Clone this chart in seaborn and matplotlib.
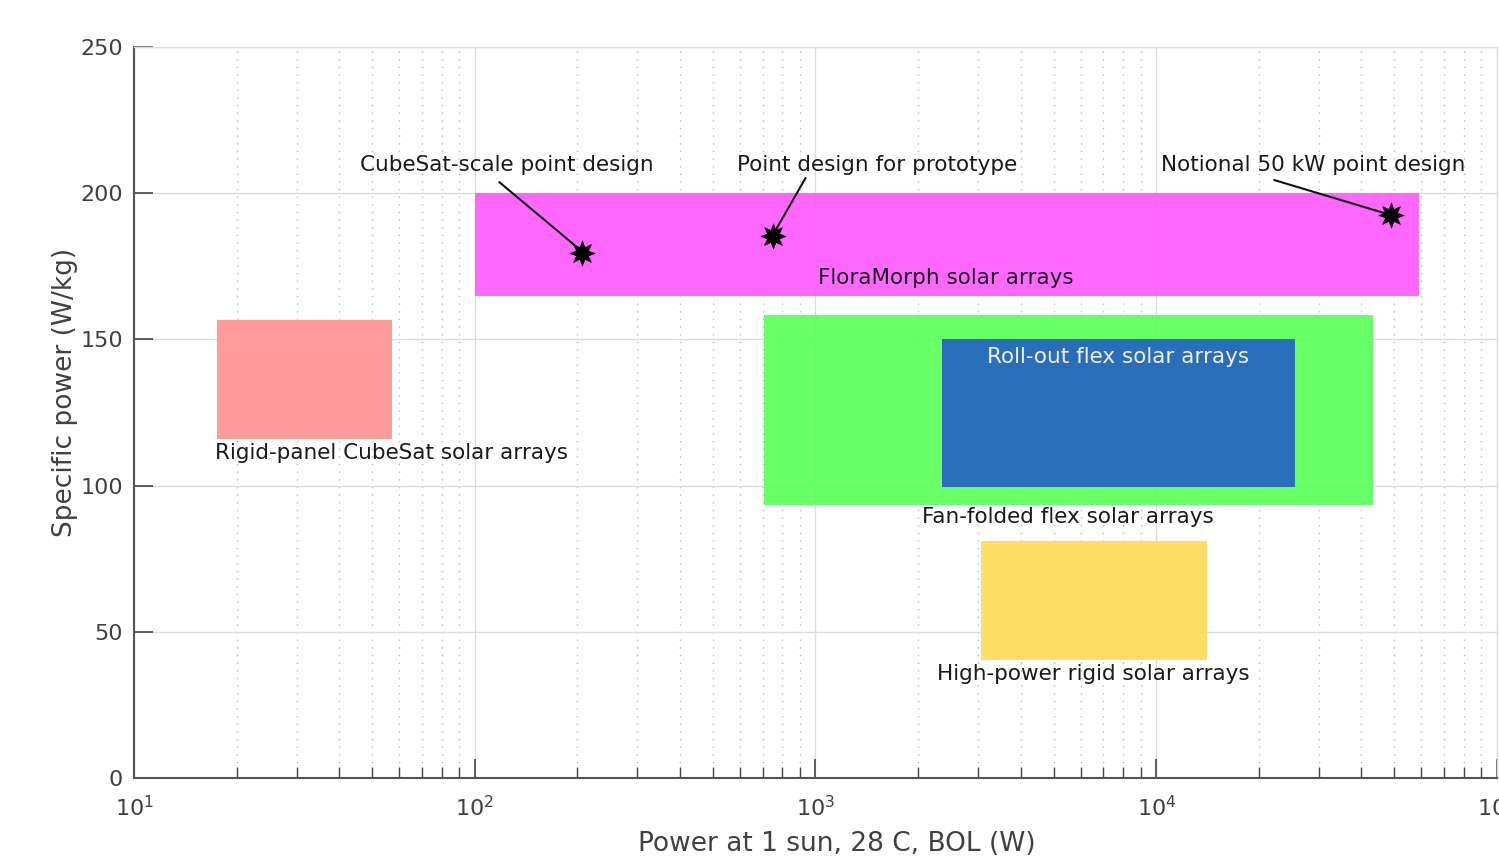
import numpy as np
import matplotlib
matplotlib.use("Agg")
import matplotlib.pyplot as plt
import seaborn as sns
import pandas as pd

# array families: power range (W) and specific power range (W/kg)
families = ["FloraMorph solar arrays", "Rigid-panel CubeSat solar arrays",
            "Fan-folded flex solar arrays", "Roll-out flex solar arrays",
            "High-power rigid solar arrays"]
p_lo = [100, 17.5, 705, 2350, 3070]
p_hi = [59000, 57, 43300, 25600, 14100]
sp_lo = [165, 116, 93.5, 99.5, 40.5]
sp_hi = [200, 156.5, 158.5, 150, 81]
colors = ["#ff5cff", "#ff9494", "#5cff5c", "#2662c0", "#ffdc5c"]

# label positions for each family
lab_x = [2420, 57, 5520, 7740, 6530]
lab_y = [171, 111, 89.3, 144, 35.6]
lab_color = ["#1a1a1a", "#1a1a1a", "#1a1a1a", "#f0f0f0", "#1a1a1a"]

# point designs
designs = ["CubeSat-scale point design", "Point design for prototype",
           "Notional 50 kW point design"]
pt_power = [207, 748, 48900]
pt_sp = [179.5, 185.4, 192.5]
txt_x = [124, 1520, 28800]
txt_y = [209.6, 209.6, 209.6]
lead_x0 = [118, 935, 22200]
lead_y0 = [203.8, 205.2, 204.5]
lead_x1 = [196, 764, 46700]
lead_y1 = [182.3, 187.4, 193.2]

sns.set_style("white")
plt.rcParams["font.family"] = ["DejaVu Sans"]

fig = plt.figure(figsize=(14.99, 8.61), dpi=100)
ax = fig.add_axes([134 / 1499, 1 - 778 / 861, (1497 - 134) / 1499, (778 - 47) / 861])
ax.set_xscale("log")
ax.set_xlim(10, 1e5)
ax.set_ylim(0, 250)

# grid under slightly see-through fills
ax.set_axisbelow(True)
ax.grid(True, which="major", color="#dcdcdc", lw=1.0)
ax.grid(True, which="minor", axis="x", color="#bdbdbd", lw=1.0,
        linestyle=(0, (1, 4.5)))

for i in range(len(families)):
    ax.fill_between([p_lo[i], p_hi[i]], sp_lo[i], sp_hi[i],
                    color=colors[i], alpha=0.93, linewidth=0, zorder=1)
    ax.text(lab_x[i], lab_y[i], families[i], ha="center", va="center",
            fontsize=15.5, color=lab_color[i], zorder=4)

pts = pd.DataFrame({"power": pt_power, "sp": pt_sp})
sns.scatterplot(data=pts, x="power", y="sp", marker=(8, 1, 0), s=330,
                color="black", edgecolor="black", linewidth=0.5, ax=ax, zorder=5)

for i in range(len(designs)):
    ax.plot([lead_x0[i], lead_x1[i]], [lead_y0[i], lead_y1[i]],
            color="#111111", lw=1.5, zorder=4)
    ax.text(txt_x[i], txt_y[i], designs[i], ha="center", va="center",
            fontsize=15.5, color="#1a1a1a", zorder=4)

ax.set_yticks([0, 50, 100, 150, 200, 250])
ax.tick_params(axis="both", which="both", bottom=True, left=True,
               top=False, right=False)
ax.tick_params(axis="both", which="major", direction="in", length=14,
               width=1.2, color="#444444", labelsize=16, labelcolor="#404040",
               pad=8)
ax.tick_params(axis="x", which="minor", direction="in", length=8, width=1.0,
               color="#444444")
ax.tick_params(axis="x", which="major", pad=12)

for side in ["left", "bottom"]:
    ax.spines[side].set_color("#555555")
    ax.spines[side].set_linewidth(1.5)
for side in ["top", "right"]:
    ax.spines[side].set_color("#e0e0e0")
    ax.spines[side].set_linewidth(1.0)

ax.set_xlabel("Power at 1 sun, 28 C, BOL (W)", fontsize=19, color="#404040")
ax.set_ylabel("Specific power (W/kg)", fontsize=19, color="#404040")
ax.xaxis.set_label_coords(0.516, -0.072)
ax.yaxis.set_label_coords(-0.041, 0.527)

fig.savefig("out.png", dpi=100)
